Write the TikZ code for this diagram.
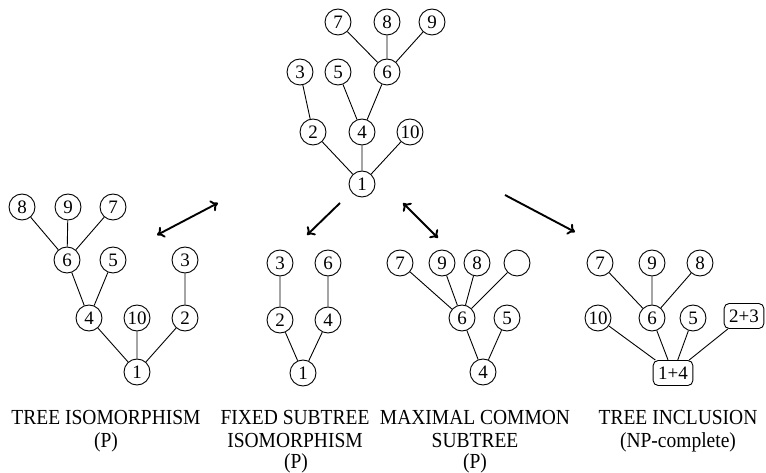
\documentclass[tikz,border=0pt]{standalone}
\usepackage{fontspec}
\setmainfont{Liberation Serif}
\usetikzlibrary{arrows.meta}
\newcommand{\tallt}[1]{\scalebox{1}[1.1]{#1}}
\begin{document}
\begin{tikzpicture}[x=1pt,y=-1pt,
  vtx/.style={circle,draw,line width=0.9pt,minimum size=26pt,inner sep=0pt,font=\fontsize{19}{22}\selectfont},
  mvtx/.style={rounded corners=5pt,draw,line width=0.9pt,minimum height=25pt,inner xsep=5pt,inner ysep=0pt,font=\fontsize{19}{22}\selectfont},
  edge/.style={line width=0.9pt},
  rel/.style={line width=1.9pt,-{To[length=7pt,width=12pt]}},
  birel/.style={line width=1.9pt,{To[length=7pt,width=12pt]}-{To[length=7pt,width=12pt]}},
  lbl/.style={anchor=base,inner sep=0pt,font=\fontsize{19.5}{24}\selectfont}]
\useasboundingbox (0,0) rectangle (766,473);
% top tree
\node[vtx] (t7) at (338,22) {7};
\node[vtx] (t8) at (387,22) {8};
\node[vtx] (t9) at (432,22) {9};
\node[vtx] (t3) at (300,72) {3};
\node[vtx] (t5) at (338,72) {5};
\node[vtx] (t6) at (387,72) {6};
\node[vtx] (t2) at (313,132) {2};
\node[vtx] (t4) at (362,132) {4};
\node[vtx] (t10) at (410,132) {10};
\node[vtx] (t1) at (362,184) {1};
\draw[edge] (t7)--(t6) (t8)--(t6) (t9)--(t6) (t5)--(t4) (t6)--(t4) (t3)--(t2)
  (t2)--(t1) (t4)--(t1) (t10)--(t1);
% tree isomorphism
\node[vtx] (a8) at (22,207) {8};
\node[vtx] (a9) at (68,207) {9};
\node[vtx] (a7) at (113,207) {7};
\node[vtx] (a6) at (67,260) {6};
\node[vtx] (a5) at (113,260) {5};
\node[vtx] (a3) at (185,260) {3};
\node[vtx] (a4) at (89,318) {4};
\node[vtx] (a10) at (137,318) {10};
\node[vtx] (a2) at (185,318) {2};
\node[vtx] (a1) at (137,372) {1};
\draw[edge] (a8)--(a6) (a9)--(a6) (a7)--(a6) (a6)--(a4) (a5)--(a4) (a3)--(a2)
  (a4)--(a1) (a10)--(a1) (a2)--(a1);
% fixed subtree isomorphism
\node[vtx] (b3) at (280,263) {3};
\node[vtx] (b6) at (328,263) {6};
\node[vtx] (b2) at (280,320) {2};
\node[vtx] (b4) at (328,320) {4};
\node[vtx] (b1) at (303,373) {1};
\draw[edge] (b3)--(b2) (b6)--(b4) (b2)--(b1) (b4)--(b1);
% maximal common subtree
\node[vtx] (c7) at (400,263) {7};
\node[vtx] (c9) at (442,263) {9};
\node[vtx] (c8) at (477,263) {8};
\node[vtx] (cx) at (517,263) {};
\node[vtx] (c6) at (462,318) {6};
\node[vtx] (c5) at (507,318) {5};
\node[vtx] (c4) at (483,372) {4};
\draw[edge] (c7)--(c6) (c9)--(c6) (c8)--(c6) (cx)--(c6) (c6)--(c4) (c5)--(c4);
% tree inclusion
\node[vtx] (d7) at (600,263) {7};
\node[vtx] (d9) at (652,263) {9};
\node[vtx] (d8) at (700,263) {8};
\node[vtx] (d10) at (598,318) {10};
\node[vtx] (d6) at (652,318) {6};
\node[vtx] (d5) at (693,318) {5};
\node[mvtx] (d23) at (744,316) {2+3};
\node[mvtx] (d14) at (673,373) {1+4};
\draw[edge] (d7)--(d6) (d9)--(d6) (d8)--(d6) (d10)--(d14) (d6)--(d14) (d5)--(d14) (d23)--(d14);
% relation arrows
\coordinate (r1a) at (157,235); \coordinate (r1b) at (218,203);
\coordinate (r2a) at (340,203); \coordinate (r2b) at (307,235);
\coordinate (r3a) at (403,203); \coordinate (r3b) at (438,238);
\coordinate (r4a) at (505,195); \coordinate (r4b) at (575,232);
\draw[birel] (r1a)--(r1b);
\draw[rel] (r2a)--(r2b);
\draw[birel] (r3a)--(r3b);
\draw[rel] (r4a)--(r4b);
% labels
\node[lbl] (l1a) at (106,424) {\tallt{TREE ISOMORPHISM}};
\node[lbl] (l1b) at (106,447) {\tallt{(P)}};
\node[lbl] (l2a) at (295,424) {\tallt{FIXED SUBTREE}};
\node[lbl] (l2b) at (295,447) {\tallt{ISOMORPHISM}};
\node[lbl] (l2c) at (296,468) {\tallt{(P)}};
\node[lbl] (l3a) at (475,424) {\tallt{MAXIMAL COMMON}};
\node[lbl] (l3b) at (475,447) {\tallt{SUBTREE}};
\node[lbl] (l3c) at (475,468) {\tallt{(P)}};
\node[lbl] (l4a) at (678,424) {\tallt{TREE INCLUSION}};
\node[lbl] (l4b) at (678,447) {\tallt{(NP-complete)}};
\end{tikzpicture}
\end{document}
